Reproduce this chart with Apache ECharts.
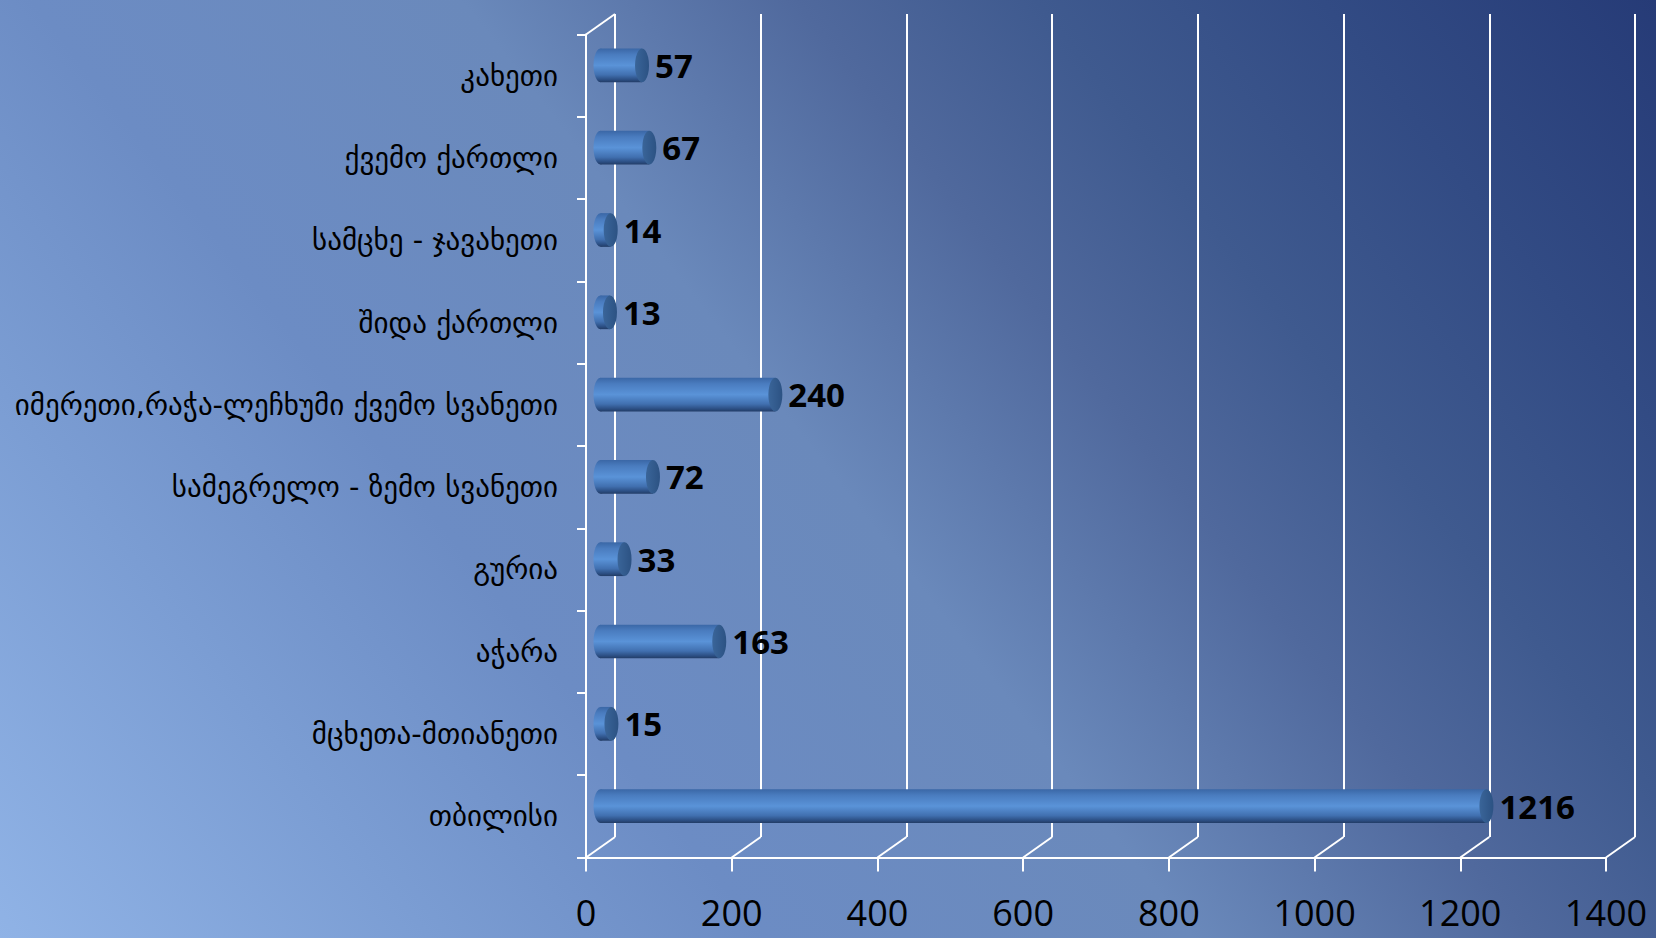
<!DOCTYPE html>
<html>
<head>
<meta charset="utf-8">
<script src="https://cdn.jsdelivr.net/npm/echarts@6/dist/echarts.min.js"></script>
<style>
  html, body { margin: 0; padding: 0; }
  #chart {
    width: 1656px; height: 938px;
    background: linear-gradient(52deg, #90b3e6 0%, #7b9dd3 18%, #6c8cc4 32%, #6a89bb 50%, #50699d 64%, #3f5a8f 74%, #324b84 86%, #263b77 100%);
  }
</style>
</head>
<body>
<div id="chart"></div>
<script>
// ---- data ----
const categories = [
  'კახეთი',
  'ქვემო ქართლი',
  'სამცხე - ჯავახეთი',
  'შიდა ქართლი',
  'იმერეთი,რაჭა-ლეჩხუმი ქვემო სვანეთი',
  'სამეგრელო - ზემო სვანეთი',
  'გურია',
  'აჭარა',
  'მცხეთა-მთიანეთი',
  'თბილისი'
];
const values = [57, 67, 14, 13, 240, 72, 33, 163, 15, 1216];
const xTicks = [0, 200, 400, 600, 800, 1000, 1200, 1400];

// ---- layout / style constants ----
const X_MIN = 0, X_MAX = 1400, X_STEP = 200;
const FRONT = { left: 586, top: 34.5, width: 1020, height: 823 };
const DX = 29, DY = -20.5;
const WHITE = '#ffffff';

const chart = echarts.init(document.getElementById('chart'), null, { renderer: 'svg' });

function grid(dx, dy) {
  return { left: FRONT.left + dx, top: FRONT.top + dy, width: FRONT.width, height: FRONT.height, containLabel: false };
}

const bodyGrad = () => new echarts.graphic.LinearGradient(0, 0, 0, 1, [
  { offset: 0, color: '#3a67a6' },
  { offset: 0.18, color: '#4a7cbf' },
  { offset: 0.5, color: '#5a93d8' },
  { offset: 0.78, color: '#4170b0' },
  { offset: 0.92, color: '#2c4f84' },
  { offset: 1, color: '#223c66' }
]);
const capGrad = () => new echarts.graphic.LinearGradient(0, 0, 1, 0, [
  { offset: 0, color: '#3a6599' },
  { offset: 1, color: '#2c5283' }
]);

const valueAxisBase = { type: 'value', min: X_MIN, max: X_MAX, interval: X_STEP };

const option = {
  backgroundColor: 'transparent',
  animation: false,
  grid: [grid(0, 0), grid(DX, DY), grid(DX / 2, DY / 2)],
  xAxis: [
    Object.assign({}, valueAxisBase, {
      gridIndex: 0,
      axisLine: { show: true, lineStyle: { color: WHITE, width: 2 } },
      axisTick: { show: true, length: 14, lineStyle: { color: WHITE, width: 2 } },
      axisLabel: {
        color: '#000', fontSize: 36, lineHeight: 36, fontFamily: 'Open Sans', margin: 37,
        formatter: v => String(v)
      },
      splitLine: { show: false }
    }),
    Object.assign({}, valueAxisBase, {
      gridIndex: 1,
      axisLine: { show: false }, axisTick: { show: false }, axisLabel: { show: false },
      splitLine: { show: true, lineStyle: { color: WHITE, width: 2 } }
    }),
    Object.assign({}, valueAxisBase, {
      gridIndex: 2,
      axisLine: { show: false }, axisTick: { show: false }, axisLabel: { show: false },
      splitLine: { show: false }
    })
  ],
  yAxis: [
    {
      type: 'category', gridIndex: 0, data: categories, inverse: true,
      axisLine: { show: true, lineStyle: { color: WHITE, width: 2 } },
      axisTick: { show: true, length: 9, lineStyle: { color: WHITE, width: 2 } },
      axisLabel: { color: '#000', fontSize: 29, fontFamily: 'DejaVu Sans', margin: 28 },
      splitLine: { show: false }
    },
    { type: 'category', gridIndex: 1, data: categories, inverse: true, show: false },
    { type: 'category', gridIndex: 2, data: categories, inverse: true, show: false }
  ],
  series: [
    {
      // 3D frame: floor diagonals and top-left wall edge
      type: 'custom', xAxisIndex: 0, yAxisIndex: 0, silent: true, z: 1,
      data: xTicks.map(v => [v, 0]),
      encode: { x: 0, y: 1 },
      renderItem: function (params, api) {
        const cs = params.coordSys;
        const p = api.coord([api.value(0), 0]);
        const yb = cs.y + cs.height;
        const children = [{
          type: 'line',
          shape: { x1: p[0], y1: yb, x2: p[0] + DX, y2: yb + DY },
          style: { stroke: WHITE, lineWidth: 2 }
        }];
        if (params.dataIndex === 0) {
          children.push({
            type: 'line',
            shape: { x1: cs.x, y1: cs.y, x2: cs.x + DX, y2: cs.y + DY },
            style: { stroke: WHITE, lineWidth: 2 }
          });
        }
        return { type: 'group', children: children };
      }
    },
    {
      // cylinder bars
      type: 'custom', xAxisIndex: 2, yAxisIndex: 2, z: 5,
      data: values.map((v, i) => [v, i]),
      encode: { x: 0, y: 1 },
      renderItem: function (params, api) {
        const val = api.value(0), idx = api.value(1);
        const s = api.coord([0, idx]);
        const e = api.coord([val, idx]);
        const band = api.size([0, 1])[1];
        const h = band * 0.41;
        const r = h / 2;
        const rx = 7;
        const yc = s[1];
        return {
          type: 'group',
          children: [
            { type: 'circle', x: s[0], y: yc, scaleX: rx / r, shape: { cx: 0, cy: 0, r: r }, style: { fill: bodyGrad() } },
            { type: 'rect', shape: { x: s[0], y: yc - r, width: e[0] - s[0], height: h }, style: { fill: bodyGrad() } },
            { type: 'circle', x: e[0], y: yc, scaleX: rx / r, shape: { cx: 0, cy: 0, r: r }, style: { fill: capGrad() } },
            { type: 'text', x: e[0] + rx + 6, y: yc,
              style: { text: String(val), fill: '#000', font: 'bold 33px "Open Sans"', textAlign: 'left', textVerticalAlign: 'middle' } }
          ]
        };
      }
    }
  ]
};
chart.setOption(option);
</script>
</body>
</html>
